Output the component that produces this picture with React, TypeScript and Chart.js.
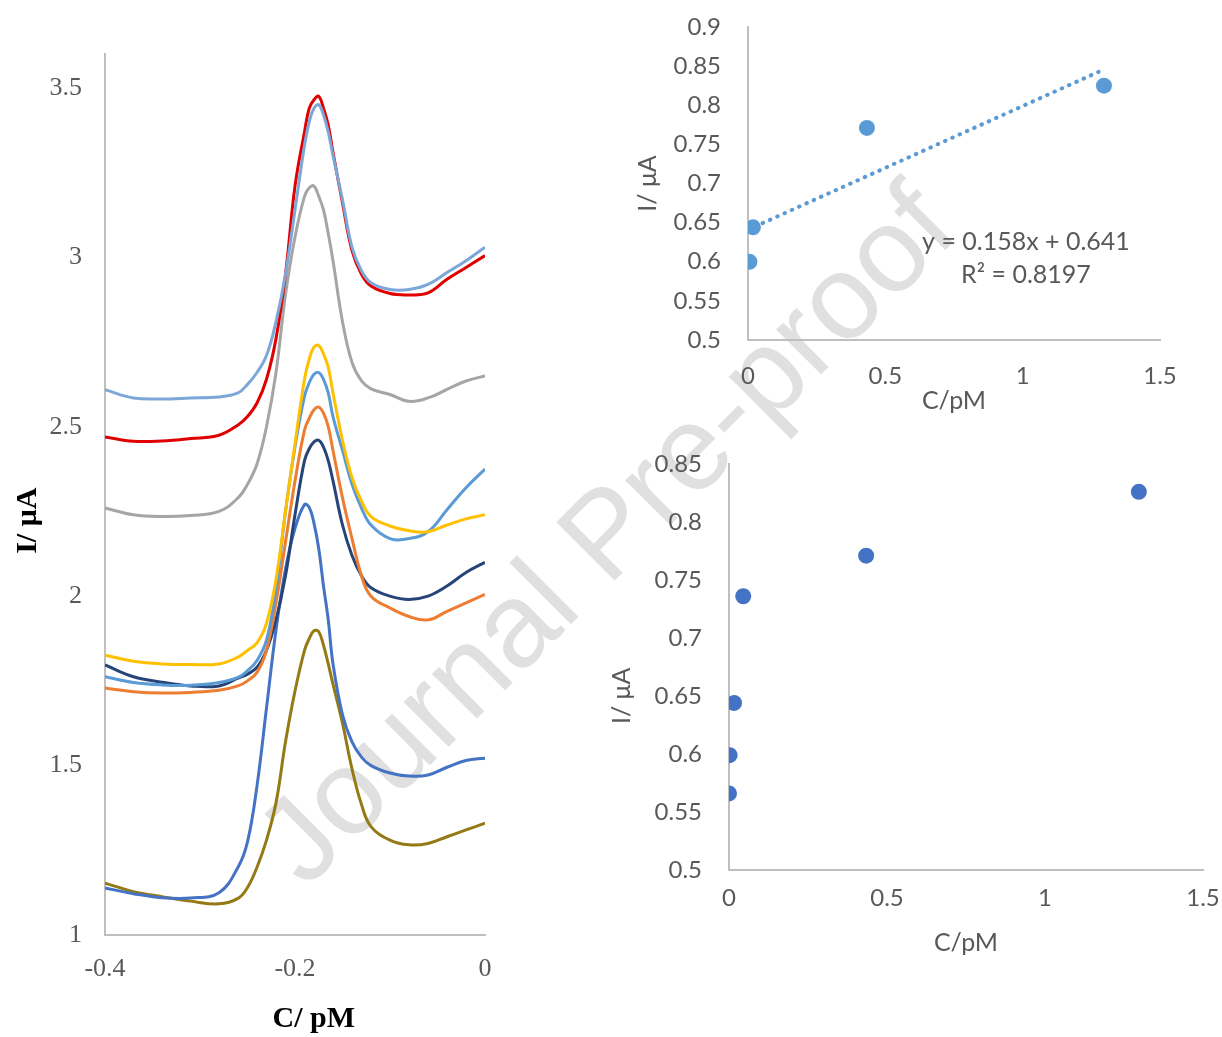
import React, { useEffect, useRef } from "react";
import { Chart, registerables } from "chart.js";

Chart.register(...registerables);

// ---------------- Left panel: voltammograms ----------------
const potential = [-0.40, -0.37, -0.34, -0.31, -0.28, -0.26, -0.25, -0.24, -0.23, -0.22, -0.21, -0.20, -0.19, -0.185, -0.18, -0.175, -0.17, -0.165, -0.16, -0.15, -0.14, -0.13, -0.12, -0.10, -0.08, -0.06, -0.04, -0.02, 0.00];

const iLightBlue = [2.609, 2.585, 2.582, 2.585, 2.588, 2.600, 2.625, 2.660, 2.710, 2.810, 2.950, 3.140, 3.330, 3.400, 3.440, 3.450, 3.420, 3.370, 3.300, 3.170, 3.030, 2.960, 2.925, 2.905, 2.905, 2.920, 2.955, 2.990, 3.030];
const iRed = [2.470, 2.457, 2.458, 2.465, 2.475, 2.505, 2.530, 2.570, 2.640, 2.760, 2.950, 3.210, 3.370, 3.440, 3.465, 3.475, 3.440, 3.390, 3.310, 3.160, 3.020, 2.950, 2.915, 2.893, 2.889, 2.895, 2.935, 2.970, 3.005];
const iGray = [2.260, 2.240, 2.235, 2.238, 2.250, 2.290, 2.330, 2.390, 2.500, 2.660, 2.890, 3.060, 3.180, 3.205, 3.210, 3.180, 3.140, 3.070, 2.990, 2.810, 2.690, 2.635, 2.612, 2.595, 2.575, 2.585, 2.610, 2.635, 2.650];
const iYellow = [1.826, 1.808, 1.800, 1.798, 1.800, 1.820, 1.840, 1.862, 1.920, 2.050, 2.250, 2.450, 2.640, 2.700, 2.735, 2.740, 2.715, 2.675, 2.600, 2.460, 2.350, 2.280, 2.235, 2.207, 2.193, 2.190, 2.210, 2.228, 2.240];
const iMidBlue = [1.762, 1.745, 1.738, 1.737, 1.745, 1.760, 1.780, 1.810, 1.870, 2.020, 2.250, 2.440, 2.590, 2.630, 2.655, 2.660, 2.640, 2.600, 2.530, 2.430, 2.330, 2.260, 2.210, 2.170, 2.170, 2.190, 2.255, 2.320, 2.375];
const iOrange = [1.729, 1.718, 1.714, 1.716, 1.722, 1.735, 1.750, 1.775, 1.840, 1.980, 2.160, 2.340, 2.490, 2.525, 2.550, 2.558, 2.540, 2.500, 2.430, 2.290, 2.170, 2.060, 2.000, 1.965, 1.940, 1.930, 1.955, 1.980, 2.005];
const iNavy = [1.797, 1.762, 1.746, 1.735, 1.735, 1.758, 1.770, 1.790, 1.840, 1.930, 2.060, 2.240, 2.400, 2.435, 2.455, 2.460, 2.440, 2.400, 2.340, 2.210, 2.120, 2.060, 2.025, 2.000, 1.990, 2.000, 2.030, 2.070, 2.100];
const iDarkBlue = [1.139, 1.122, 1.110, 1.109, 1.125, 1.200, 1.275, 1.440, 1.670, 1.900, 2.080, 2.200, 2.270, 2.262, 2.215, 2.140, 2.030, 1.930, 1.800, 1.650, 1.570, 1.525, 1.500, 1.478, 1.469, 1.472, 1.495, 1.515, 1.522];
const iOlive = [1.153, 1.128, 1.113, 1.100, 1.092, 1.108, 1.140, 1.200, 1.280, 1.390, 1.570, 1.720, 1.840, 1.875, 1.898, 1.895, 1.855, 1.800, 1.740, 1.625, 1.490, 1.385, 1.320, 1.280, 1.266, 1.270, 1.290, 1.310, 1.330];

const leftXTicks = [-0.4, -0.2, 0];
const leftYTicks = [1, 1.5, 2, 2.5, 3, 3.5];

// ---------------- Right panels: calibration ----------------
const concTop = [0.005, 0.018, 0.433, 1.296];
const currentTop = [0.600, 0.644, 0.771, 0.825];
const trendSlope = 0.158;
const trendIntercept = 0.641;
const trendRange = [0, 1.3];
const trendLabel = ["y = 0.158x + 0.641", "R\u00B2 = 0.8197"];

const concBottom = [0, 0.002, 0.016, 0.045, 0.434, 1.297];
const currentBottom = [0.566, 0.599, 0.644, 0.736, 0.771, 0.826];

const rightXTicks = [0, 0.5, 1, 1.5];
const topYTicks = [0.5, 0.55, 0.6, 0.65, 0.7, 0.75, 0.8, 0.85, 0.9];
const bottomYTicks = [0.5, 0.55, 0.6, 0.65, 0.7, 0.75, 0.8, 0.85];

// ---------------- styling ----------------
const SERIF = '"Liberation Serif", "Times New Roman", serif';
const SANS = 'Lato, "Open Sans", sans-serif';
const AXIS_GREY = "#BFBFBF";
const TICK_GREY = "#595959";

const voltSeries = [
  { name: "c9", values: iLightBlue, color: "#7DA7D9" },
  { name: "c8", values: iRed, color: "#E00000" },
  { name: "c7", values: iGray, color: "#A5A5A5" },
  { name: "c6", values: iYellow, color: "#FFC000" },
  { name: "c5", values: iMidBlue, color: "#5B9BD5" },
  { name: "c4", values: iOrange, color: "#ED7D31" },
  { name: "c3", values: iNavy, color: "#264478" },
  { name: "c2", values: iDarkBlue, color: "#4472C4" },
  { name: "c1", values: iOlive, color: "#947A14" },
];

const fmt = (v: number) => String(parseFloat(Number(v).toFixed(3)));
const setTicks = (vals: number[]) => (s: any) => {
  s.ticks = vals.map((value) => ({ value }));
};
const fixY = (w: number) => (s: any) => {
  s.width = w;
  s.paddingTop = 0;
  s.paddingBottom = 0;
};
const fixX = (h: number) => (s: any) => {
  s.height = h;
  s.paddingLeft = 0;
  s.paddingRight = 0;
};

function leftConfig(): any {
  return {
    type: "scatter",
    data: {
      datasets: voltSeries.map((s) => ({
        label: s.name,
        data: potential.map((x, i) => ({ x, y: s.values[i] })),
        showLine: true,
        borderColor: s.color,
        backgroundColor: s.color,
        borderWidth: 3,
        pointRadius: 0,
        tension: 0.4,
      })),
    },
    options: {
      animation: false,
      responsive: false,
      events: [],
      layout: { padding: { top: 54, right: 25, bottom: 0, left: 0 } },
      plugins: { legend: { display: false }, tooltip: { enabled: false } },
      scales: {
        x: {
          type: "linear",
          min: -0.4,
          max: 0,
          afterBuildTicks: setTicks(leftXTicks),
          afterFit: fixX(102),
          grid: { display: false, drawTicks: false },
          border: { display: true, color: AXIS_GREY, width: 2 },
          ticks: {
            padding: 19,
            color: TICK_GREY,
            font: { family: SERIF, size: 26 },
            maxRotation: 0,
            autoSkip: false,
            callback: (v: number) => fmt(v),
          },
          title: {
            display: true,
            text: "     C/ pM",
            color: "#000000",
            font: { family: SERIF, size: 30, weight: "bold" },
            padding: { top: 0, bottom: 0 },
          },
        },
        y: {
          type: "linear",
          min: 1,
          max: 3.6,
          afterBuildTicks: setTicks(leftYTicks),
          afterFit: fixY(105),
          grid: { display: false, drawTicks: false },
          border: { display: true, color: AXIS_GREY, width: 2 },
          ticks: {
            padding: 23,
            color: TICK_GREY,
            font: { family: SERIF, size: 26 },
            autoSkip: false,
            callback: (v: number) => fmt(v),
          },
          title: {
            display: true,
            text: "I/ \u03BCA       ",
            color: "#000000",
            font: { family: SERIF, size: 30, weight: "bold" },
            padding: { top: 10, bottom: 0 },
          },
        },
      },
    },
  };
}

function labelPlugin(lines: string[], at: { x: number; y: number }[]) {
  return {
    id: "trendLabel",
    afterDatasetsDraw(chart: any) {
      const { ctx, scales } = chart;
      ctx.save();
      ctx.font = `25px ${SANS}`;
      ctx.fillStyle = TICK_GREY;
      ctx.textAlign = "center";
      ctx.textBaseline = "middle";
      lines.forEach((t, i) => {
        ctx.fillText(t, scales.x.getPixelForValue(at[i].x), scales.y.getPixelForValue(at[i].y));
      });
      ctx.restore();
    },
  };
}

function rightConfig(opts: {
  xs: number[];
  ys: number[];
  color: string;
  yMax: number;
  yTicks: number[];
  padTop: number;
  padRight: number;
  yWidth: number;
  xHeight: number;
  tickPadX: number;
  yTitlePad: number;
  xTitlePad: number;
  yTitle: string;
  trend: boolean;
}): any {
  const datasets: any[] = [
    {
      label: "points",
      data: opts.xs.map((x, i) => ({ x, y: opts.ys[i] })),
      backgroundColor: opts.color,
      borderColor: opts.color,
      borderWidth: 0,
      pointRadius: 8,
      showLine: false,
    },
  ];
  if (opts.trend) {
    datasets.push({
      label: "trend",
      data: trendRange.map((x) => ({ x, y: trendSlope * x + trendIntercept })),
      showLine: true,
      borderColor: "#5B9BD5",
      borderWidth: 4,
      borderDash: [0.5, 7.5],
      borderCapStyle: "round",
      pointRadius: 0,
      tension: 0,
    });
  }
  return {
    type: "scatter",
    data: { datasets },
    plugins: opts.trend ? [labelPlugin(trendLabel, [{ x: 1.012, y: 0.6252 }, { x: 1.012, y: 0.5831 }])] : [],
    options: {
      animation: false,
      responsive: false,
      events: [],
      layout: { padding: { top: opts.padTop, right: opts.padRight, bottom: 0, left: 0 } },
      plugins: { legend: { display: false }, tooltip: { enabled: false } },
      scales: {
        x: {
          type: "linear",
          min: 0,
          max: 1.5,
          afterBuildTicks: setTicks(rightXTicks),
          afterFit: fixX(opts.xHeight),
          grid: { display: false, drawTicks: false },
          border: { display: true, color: AXIS_GREY, width: 2 },
          ticks: {
            padding: opts.tickPadX,
            color: TICK_GREY,
            font: { family: SANS, size: 24 },
            maxRotation: 0,
            autoSkip: false,
            callback: (v: number) => fmt(v),
          },
          title: {
            display: true,
            text: "C/pM",
            color: TICK_GREY,
            font: { family: SANS, size: 25 },
            padding: { top: 0, bottom: opts.xTitlePad },
          },
        },
        y: {
          type: "linear",
          min: 0.5,
          max: opts.yMax,
          afterBuildTicks: setTicks(opts.yTicks),
          afterFit: fixY(opts.yWidth),
          grid: { display: false, drawTicks: false },
          border: { display: true, color: AXIS_GREY, width: 2 },
          ticks: {
            padding: 27,
            color: TICK_GREY,
            font: { family: SANS, size: 24 },
            autoSkip: false,
            callback: (v: number) => fmt(v),
          },
          title: {
            display: true,
            text: opts.yTitle,
            color: TICK_GREY,
            font: { family: SANS, size: 25 },
            padding: { top: opts.yTitlePad, bottom: 0 },
          },
        },
      },
    },
  };
}

function ChartCanvas(props: { make: () => any; left: number; top: number; width: number; height: number }) {
  const ref = useRef<HTMLCanvasElement>(null);
  useEffect(() => {
    const chart = new Chart(ref.current as HTMLCanvasElement, props.make());
    return () => chart.destroy();
  }, []);
  return (
    <canvas
      ref={ref}
      width={props.width}
      height={props.height}
      style={{
        position: "absolute",
        left: props.left,
        top: props.top,
        width: props.width,
        height: props.height,
        zIndex: 1,
      }}
    />
  );
}

export default function App() {
  return (
    <div
      style={{
        position: "absolute",
        left: 0,
        top: 0,
        width: 1222,
        height: 1037,
        background: "#ffffff",
        overflow: "hidden",
      }}
    >
      <div style={{ position: "absolute", left: 604, top: 532, width: 0, height: 0, zIndex: 0 }}>
        <div
          style={{
            position: "absolute",
            left: 0,
            top: 0,
            transform: "translate(-50%, -50%) rotate(-45deg)",
            whiteSpace: "nowrap",
            fontFamily: '"Liberation Sans", Arial, sans-serif',
            fontSize: 120,
            lineHeight: 1,
            color: "#E0E0E0",
          }}
        >
          Journal Pre-proof
        </div>
      </div>
      <ChartCanvas make={leftConfig} left={0} top={0} width={510} height={1037} />
      <ChartCanvas
        make={() =>
          rightConfig({
            xs: concTop,
            ys: currentTop,
            color: "#5B9BD5",
            yMax: 0.9,
            yTicks: topYTicks,
            padTop: 27,
            padRight: 62,
            yWidth: 148,
            xHeight: 90,
            tickPadX: 22,
            yTitlePad: 33,
            xTitlePad: 14,
            yTitle: "I/ \u03BCA",
            trend: true,
          })
        }
        left={600}
        top={0}
        width={622}
        height={430}
      />
      <ChartCanvas
        make={() =>
          rightConfig({
            xs: concBottom,
            ys: currentBottom,
            color: "#4472C4",
            yMax: 0.85,
            yTicks: bottomYTicks,
            padTop: 34,
            padRight: 19,
            yWidth: 129,
            xHeight: 167,
            tickPadX: 14,
            yTitlePad: 7,
            xTitlePad: 79,
            yTitle: "I/ \u03BCA         ",
            trend: false,
          })
        }
        left={600}
        top={430}
        width={622}
        height={607}
      />
    </div>
  );
}
